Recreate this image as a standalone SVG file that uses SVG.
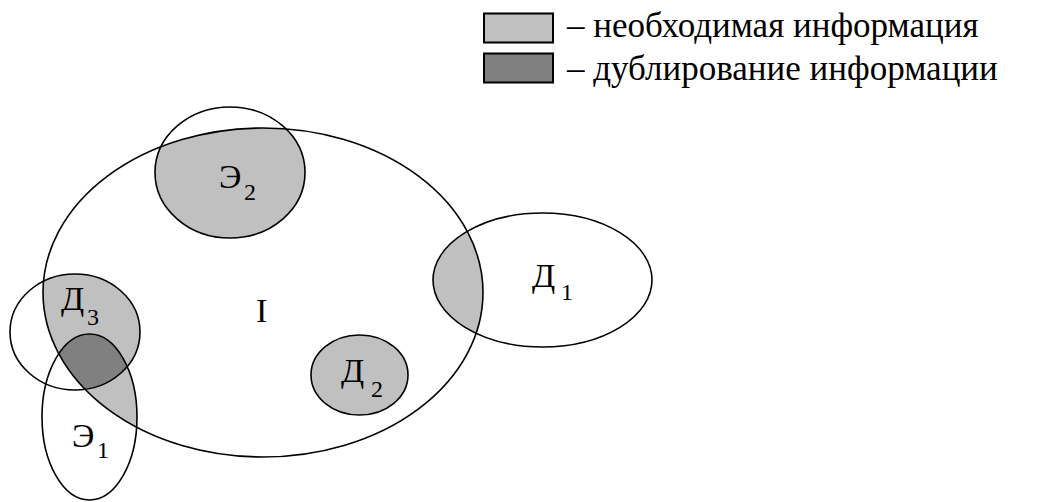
<svg xmlns="http://www.w3.org/2000/svg" width="1046" height="502" viewBox="0 0 1046 502">
<style>
.o{fill:none;stroke:#000;stroke-width:1.6}
.l{fill:#c0c0c0}
.d{fill:#808080}
.t{font-family:"Liberation Serif","DejaVu Serif",serif;fill:#000}
.m{font-size:34px}
.s{font-size:24px}
.lg{font-size:35px}
</style>
<defs>
<clipPath id="clipI"><ellipse cx="263" cy="292.5" rx="220" ry="164.5"/></clipPath>
<clipPath id="clipD3"><ellipse cx="75" cy="332" rx="65" ry="58"/></clipPath>
</defs>
<rect width="1046" height="502" fill="#fff"/>
<g id="fills" clip-path="url(#clipI)">
<ellipse class="l" cx="230" cy="172.5" rx="75" ry="65.5"/>
<ellipse class="l" cx="542.5" cy="280" rx="109.5" ry="67"/>
<ellipse class="l" cx="359.5" cy="375" rx="48.5" ry="40"/>
<ellipse class="l" cx="75" cy="332" rx="65" ry="58"/>
<ellipse class="l" cx="89.5" cy="417" rx="47.5" ry="83"/>
<ellipse class="d" cx="89.5" cy="417" rx="47.5" ry="83" clip-path="url(#clipD3)"/>
</g>
<g id="I">
<ellipse class="o" cx="263" cy="292.5" rx="220" ry="164.5"/>
<text class="t m" x="256" y="322">I</text>
</g>
<g id="E2">
<ellipse class="o" cx="230" cy="172.5" rx="75" ry="65.5"/>
<text class="t m" x="219" y="188">Э</text><text class="t s" x="244" y="200">2</text>
</g>
<g id="D1">
<ellipse class="o" cx="542.5" cy="280" rx="109.5" ry="67"/>
<text class="t m" x="532" y="287">Д</text><text class="t s" x="561" y="300">1</text>
</g>
<g id="D2">
<ellipse class="o" cx="359.5" cy="375" rx="48.5" ry="40"/>
<text class="t m" x="341" y="382">Д</text><text class="t s" x="371" y="397">2</text>
</g>
<g id="D3">
<ellipse class="o" cx="75" cy="332" rx="65" ry="58"/>
<text class="t m" x="61" y="310">Д</text><text class="t s" x="87" y="325">3</text>
</g>
<g id="E1">
<ellipse class="o" cx="89.5" cy="417" rx="47.5" ry="83"/>
<text class="t m" x="72" y="447">Э</text><text class="t s" x="97" y="458">1</text>
</g>
<g id="legend">
<rect x="484" y="13.5" width="69" height="29" fill="#c0c0c0" stroke="#000" stroke-width="2"/>
<text class="t lg" x="567" y="37">– необходимая информация</text>
<rect x="484" y="53.5" width="69" height="29" fill="#808080" stroke="#000" stroke-width="2"/>
<text class="t lg" x="567" y="80">– дублирование информации</text>
</g>
</svg>
